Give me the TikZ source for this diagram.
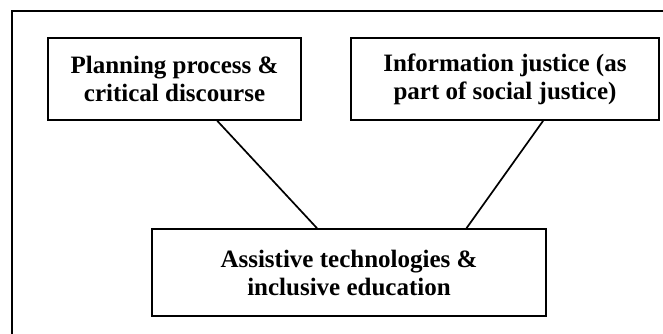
\documentclass[tikz,border=0pt]{standalone}
\usepackage{fontspec}
\setmainfont{Liberation Serif}
\usetikzlibrary{calc}
\tikzset{
  box/.style={draw, line width=1.7pt, rectangle, align=center, inner sep=0pt,
    font=\fontsize{25}{28}\selectfont\bfseries},
  link/.style={line width=1.7pt},
  frame/.style={line width=1.9pt}
}
\begin{document}
\begin{tikzpicture}[x=1pt,y=-1pt]
\useasboundingbox (0,0) rectangle (663,333);
\coordinate (fb) at (12,334);
\coordinate (fc) at (12,11);
\coordinate (fr) at (663,11);
\draw[frame] (fb) -- (fc) -- (fr);
\node[box, minimum width=253pt, minimum height=82pt] (b1) at (174.5,79)
  {Planning process \&\\critical discourse};
\node[box, minimum width=308pt, minimum height=82pt] (b2) at (505,79)
  {Information justice (as\\part of social justice)};
\node[box, minimum width=394pt, minimum height=87pt] (b3) at (349,272.5)
  {Assistive technologies \&\\inclusive education};
\draw[link] ($(b1.south west)!0.668!(b1.south east)$) -- ($(b3.north west)!0.419!(b3.north east)$);
\draw[link] ($(b2.south west)!0.623!(b2.south east)$) -- ($(b3.north west)!0.797!(b3.north east)$);
\end{tikzpicture}
\end{document}
